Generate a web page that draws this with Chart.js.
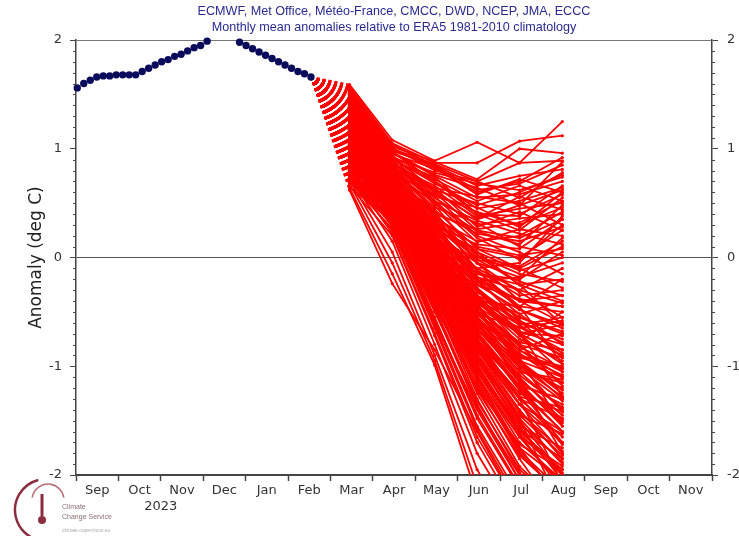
<!DOCTYPE html>
<html>
<head>
<meta charset="utf-8">
<script src="https://cdn.jsdelivr.net/npm/chart.js@4.4.1/dist/chart.umd.min.js"></script>
<style>
  html, body { margin: 0; padding: 0; background: #fff; }
  #wrap { width: 739px; height: 536px; }
</style>
</head>
<body>
<div id="wrap"><canvas id="plume" width="739" height="536"></canvas></div>
<script>
// month axis runs from 1 Sep 2023 (0) to 1 Dec 2024 (15)
const monthLabels = ["Sep", "Oct", "Nov", "Dec", "Jan", "Feb", "Mar", "Apr", "May", "Jun", "Jul", "Aug", "Sep", "Oct", "Nov"];
const yearLabel = "2023";

// observed anomalies (dark blue dots), one every ~4.6 days
const obsStart = 0.03;
const obsStep = 0.1531;
const obsValues = [
  1.56, 1.60, 1.63, 1.66, 1.67, 1.67, 1.68, 1.68, 1.68, 1.68, 1.71,
  1.74, 1.77, 1.80, 1.82, 1.85, 1.87, 1.90, 1.93, 1.95, 1.99,
  2.08, 2.10, 2.10, 2.08,
  1.98, 1.95, 1.92, 1.89, 1.86, 1.83, 1.80, 1.77, 1.74, 1.71, 1.69, 1.66
];

// forecast months (mid Mar .. mid Aug 2024)
const fcMonths = [6.45, 7.46, 8.46, 9.46, 10.46, 11.47];

// ensemble members: Mar, Apr, May, Jun, Jul, Aug
const members = [
  [1.59, 1.08, 0.89, 1.06, 0.87, 1.25],
  [1.57, 1.05, 0.87, 0.87, 1.07, 1.12],
  [1.55, 1.02, 0.88, 0.72, 1.00, 0.96],
  [1.53, 1.00, 0.86, 0.70, 0.87, 0.89],
  [1.50, 0.98, 0.85, 0.66, 0.75, 0.81],
  [1.46, 0.95, 0.82, 0.60, 0.70, 0.92],
  [1.44, 0.92, 0.78, 0.68, 0.62, 0.74],
  [1.48, 0.96, 0.75, 0.55, 0.58, 0.70],
  [1.42, 0.90, 0.70, 0.45, 0.52, 0.64],
  [1.40, 0.88, 0.62, 0.50, 0.40, 0.58],
  [1.38, 0.85, 0.66, 0.38, 0.45, 0.50],
  [1.36, 0.84, 0.58, 0.42, 0.30, 0.46],
  [1.34, 0.80, 0.55, 0.30, 0.36, 0.40],
  [1.52, 0.94, 0.60, 0.25, 0.18, 0.35],
  [1.32, 0.82, 0.52, 0.34, 0.22, 0.12],
  [1.56, 0.90, 0.48, 0.02, -0.25, -0.40],
  [1.49, 0.86, 0.40, -0.12, -0.48, -0.65],
  [1.45, 0.83, 0.35, -0.30, -0.70, -1.05],
  [1.41, 0.76, 0.20, -0.42, -0.95, -1.30],
  [1.37, 0.70, 0.12, -0.60, -1.15, -1.55],
  [1.33, 0.79, 0.44, 0.08, -0.10, -0.28],
  [1.51, 0.92, 0.56, 0.20, 0.05, -0.15],
  [1.47, 0.88, 0.50, 0.14, 0.26, 0.20],
  [1.43, 0.74, 0.28, -0.22, -0.52, -0.80],
  [1.39, 0.81, 0.46, 0.32, 0.10, 0.02],
  [1.35, 0.66, 0.05, -0.75, -1.35, -1.80],
  [1.31, 0.72, 0.30, -0.05, -0.32, -0.55],
  [1.29, 0.77, 0.38, 0.10, 0.02, 0.08],
  [1.28, 0.70, 0.25, -0.18, -0.40, -0.60],
  [1.27, 0.64, 0.10, -0.45, -0.85, -1.10],
  [1.26, 0.75, 0.42, 0.22, 0.15, 0.28],
  [1.25, 0.58, -0.02, -0.62, -1.05, -1.40],
  [1.24, 0.68, 0.22, -0.28, -0.60, -0.75],
  [1.23, 0.62, 0.08, -0.50, -0.95, -1.25],
  [1.22, 0.72, 0.34, -0.02, -0.22, -0.35],
  [1.21, 0.55, -0.10, -0.80, -1.30, -1.65],
  [1.20, 0.66, 0.18, -0.35, -0.72, -0.98],
  [1.19, 0.60, 0.05, -0.55, -1.00, -1.20],
  [1.18, 0.70, 0.30, 0.05, -0.12, 0.00],
  [1.17, 0.52, -0.15, -0.85, -1.40, -1.85],
  [1.16, 0.63, 0.12, -0.40, -0.70, -0.90],
  [1.15, 0.57, 0.00, -0.65, -1.10, -1.50],
  [1.14, 0.68, 0.26, -0.10, -0.30, -0.42],
  [1.13, 0.50, -0.20, -0.95, -1.55, -2.05],
  [1.12, 0.61, 0.08, -0.45, -0.82, -1.02],
  [1.11, 0.64, 0.20, -0.20, -0.45, -0.50],
  [1.10, 0.54, -0.08, -0.70, -1.20, -1.60],
  [1.09, 0.59, 0.02, -0.52, -0.88, -1.15],
  [1.08, 0.66, 0.24, -0.15, -0.25, -0.20],
  [1.07, 0.48, -0.25, -1.05, -1.65, -2.10],
  [1.06, 0.56, -0.05, -0.60, -1.02, -1.32],
  [1.05, 0.62, 0.15, -0.32, -0.55, -0.70],
  [1.04, 0.45, -0.30, -1.10, -1.75, -2.25],
  [1.03, 0.58, 0.04, -0.48, -0.78, -0.85],
  [1.02, 0.52, -0.12, -0.78, -1.28, -1.72],
  [1.01, 0.60, 0.10, -0.25, -0.48, -0.62],
  [1.00, 0.46, -0.22, -0.92, -1.48, -1.90],
  [0.99, 0.55, -0.02, -0.58, -0.98, -1.22],
  [0.98, 0.50, -0.10, -0.72, -1.12, -1.45],
  [0.97, 0.62, 0.18, -0.12, -0.35, -0.30],
  [0.96, 0.42, -0.35, -1.20, -1.85, -2.40],
  [0.95, 0.53, -0.06, -0.66, -1.08, -1.38],
  [1.27, 0.74, 0.36, 0.15, 0.20, 0.42],
  [1.18, 0.69, 0.28, 0.00, -0.08, 0.15],
  [1.09, 0.63, 0.22, -0.05, -0.18, -0.05],
  [1.22, 0.60, 0.02, -0.55, -0.90, -1.08],
  [1.14, 0.55, -0.05, -0.68, -1.15, -1.35],
  [1.04, 0.59, 0.14, -0.30, -0.62, -0.88],
  [1.00, 0.57, 0.06, -0.40, -0.75, -0.95],
  [1.25, 0.71, 0.32, 0.02, -0.15, -0.22],
  [1.12, 0.47, -0.18, -0.88, -1.42, -1.78],
  [1.06, 0.65, 0.26, 0.08, 0.00, 0.25],
  [0.94, 0.48, -0.12, -0.75, -1.20, -1.48],
  [0.93, 0.40, -0.38, -1.25, -1.92, -2.30],
  [0.92, 0.52, 0.00, -0.50, -0.85, -1.05],
  [0.91, 0.44, -0.25, -0.98, -1.60, -1.95],
  [0.90, 0.50, -0.05, -0.62, -1.00, -1.28],
  [0.89, 0.36, -0.45, -1.35, -2.05, -2.50],
  [0.88, 0.46, -0.18, -0.85, -1.35, -1.70],
  [0.87, 0.54, 0.05, -0.38, -0.68, -0.80],
  [0.86, 0.38, -0.40, -1.30, -1.98, -2.35],
  [0.85, 0.42, -0.30, -1.08, -1.70, -2.05],
  [0.84, 0.49, -0.08, -0.70, -1.18, -1.52],
  [0.83, 0.32, -0.55, -1.45, -2.10, -2.60],
  [0.82, 0.45, -0.20, -0.90, -1.45, -1.82],
  [0.81, 0.51, 0.02, -0.45, -0.80, -0.92],
  [0.80, 0.28, -0.62, -1.55, -2.20, -2.70],
  [0.79, 0.40, -0.32, -1.12, -1.78, -2.15],
  [0.78, 0.47, -0.10, -0.72, -1.22, -1.60],
  [0.77, 0.22, -0.70, -1.65, -2.30, -2.80],
  [0.76, 0.35, -0.48, -1.38, -2.00, -2.40],
  [0.75, 0.43, -0.22, -0.95, -1.52, -1.88],
  [0.74, 0.15, -0.80, -1.80, -2.45, -2.90],
  [0.73, 0.30, -0.58, -1.48, -2.12, -2.55],
  [0.72, 0.41, -0.28, -1.02, -1.62, -2.00],
  [0.71, 0.05, -0.90, -1.95, -2.60, -3.00],
  [0.70, 0.26, -0.65, -1.58, -2.25, -2.65],
  [0.69, 0.38, -0.35, -1.15, -1.80, -2.20],
  [0.68, -0.05, -0.95, -2.10, -2.75, -3.10],
  [0.66, 0.20, -0.72, -1.70, -2.38, -2.85],
  [0.64, -0.15, -0.99, -2.20, -2.85, -3.20],
  [0.62, -0.24, -0.85, -1.60, -2.30, -2.80],
  [0.65, 0.33, -0.42, -1.20, -1.72, -1.95],
  [0.88, 0.58, 0.12, -0.20, -0.40, -0.45],
  [0.80, 0.55, 0.08, -0.30, -0.55, -0.68],
  [0.92, 0.60, 0.16, -0.18, -0.30, -0.10],
  [1.54, 0.97, 0.70, 0.40, 0.25, 0.55],
  [1.50, 0.93, 0.62, 0.35, 0.48, 0.62],
  [1.46, 0.89, 0.52, 0.18, -0.02, 0.30],
  [1.42, 0.84, 0.42, -0.05, -0.40, -0.35],
  [1.38, 0.78, 0.32, -0.20, -0.58, -0.92],
  [1.34, 0.73, 0.22, -0.38, -0.80, -1.18],
  [1.30, 0.69, 0.16, -0.48, -0.98, -1.42],
  [1.28, 0.63, 0.04, -0.68, -1.22, -1.70],
  [1.26, 0.56, -0.12, -0.90, -1.50, -2.00],
  [1.24, 0.74, 0.40, 0.26, 0.32, 0.52],
  [1.22, 0.67, 0.20, -0.15, -0.20, 0.05],
  [1.20, 0.62, 0.10, -0.42, -0.65, -0.58],
  [1.18, 0.57, 0.00, -0.62, -1.05, -1.12],
  [1.16, 0.51, -0.12, -0.82, -1.35, -1.60],
  [1.14, 0.46, -0.28, -1.00, -1.62, -2.15],
  [1.12, 0.66, 0.30, 0.12, 0.08, 0.35],
  [1.10, 0.60, 0.12, -0.35, -0.52, -0.40],
  [1.08, 0.53, -0.04, -0.58, -0.92, -1.02],
  [1.06, 0.49, -0.16, -0.82, -1.30, -1.48],
  [1.04, 0.44, -0.26, -1.00, -1.58, -1.98],
  [1.02, 0.58, 0.08, -0.38, -0.62, -0.55],
  [1.00, 0.52, -0.04, -0.62, -0.95, -1.10],
  [0.98, 0.47, -0.15, -0.80, -1.25, -1.42],
  [0.96, 0.40, -0.32, -1.05, -1.58, -1.85],
  [0.94, 0.56, 0.04, -0.42, -0.70, -0.72],
  [0.92, 0.46, -0.14, -0.78, -1.18, -1.30],
  [0.90, 0.39, -0.30, -1.02, -1.55, -1.75],
  [0.88, 0.34, -0.42, -1.22, -1.82, -2.18],
  [0.86, 0.50, -0.02, -0.55, -0.90, -1.00],
  [0.84, 0.44, -0.18, -0.85, -1.28, -1.38],
  [0.82, 0.37, -0.36, -1.10, -1.65, -1.92],
  [0.80, 0.31, -0.50, -1.32, -1.95, -2.28],
  [0.78, 0.45, -0.12, -0.65, -1.05, -1.15],
  [0.76, 0.39, -0.28, -0.95, -1.45, -1.62],
  [0.74, 0.33, -0.44, -1.18, -1.75, -2.05],
  [0.72, 0.25, -0.60, -1.40, -2.05, -2.45],
  [1.32, 0.77, 0.38, 0.05, -0.25, -0.62],
  [1.28, 0.72, 0.28, -0.12, -0.45, -0.98],
  [1.19, 0.64, 0.14, -0.30, -0.68, -1.28],
  [1.11, 0.58, 0.04, -0.48, -0.92, -1.55],
  [1.03, 0.54, -0.06, -0.60, -1.12, -1.80],
  [0.97, 0.49, -0.14, -0.75, -1.30, -2.08],
  [0.91, 0.43, -0.24, -0.92, -1.48, -2.32],
  [1.36, 0.79, 0.36, -0.02, -0.10, 0.10],
  [1.16, 0.67, 0.20, -0.10, -0.05, 0.38],
  [1.05, 0.61, 0.10, -0.22, -0.18, 0.18],
  [0.95, 0.55, 0.02, -0.40, -0.45, -0.20],
  [0.85, 0.47, -0.12, -0.62, -0.78, -0.50],
  [1.58, 1.04, 0.84, 0.62, 0.68, 0.85],
  [1.54, 1.01, 0.80, 0.70, 0.55, 0.78],
  [1.51, 0.99, 0.83, 0.58, 0.72, 0.60],
  [1.47, 0.97, 0.76, 0.64, 0.48, 0.88],
  [1.45, 0.93, 0.72, 0.52, 0.66, 0.52],
  [1.43, 0.91, 0.68, 0.48, 0.60, 0.76],
  [1.41, 0.89, 0.74, 0.40, 0.38, 0.66],
  [1.39, 0.87, 0.64, 0.56, 0.50, 0.30],
  [1.37, 0.86, 0.60, 0.36, 0.56, 0.44],
  [1.35, 0.83, 0.56, 0.46, 0.28, 0.60],
  [1.33, 0.81, 0.64, 0.28, 0.42, 0.25],
  [1.30, 0.79, 0.50, 0.24, 0.12, 0.48],
  [1.21, 0.65, 0.16, -0.25, -0.38, -0.45],
  [1.13, 0.60, 0.06, -0.36, -0.58, -0.78],
  [1.07, 0.57, 0.02, -0.45, -0.70, -0.62],
  [0.99, 0.53, -0.02, -0.52, -0.64, -0.85],
  [0.93, 0.51, -0.08, -0.58, -0.85, -0.70]
];

const obsColor = "#0b0b5c";
const memberColor = "#ff0000";
const axisColor = "#444";
const textColor = "#333";

Chart.defaults.font.family = "DejaVu Sans";

// small 0.1 ticks on both y axes
const minorTicks = {
  id: "minorTicks",
  afterDraw(chart) {
    const ctx = chart.ctx;
    ctx.save();
    ctx.strokeStyle = axisColor;
    ctx.lineWidth = 1;
    ["y", "y2"].forEach(id => {
      const s = chart.scales[id];
      const x0 = id === "y" ? s.right : s.left;
      const dir = id === "y" ? -1 : 1;
      for (let k = -20; k <= 20; k++) {
        if (k % 10 === 0) continue;
        const py = Math.round(s.getPixelForValue(k / 10)) + 0.5;
        ctx.beginPath();
        ctx.moveTo(x0, py);
        ctx.lineTo(x0 + dir * 3, py);
        ctx.stroke();
      }
    });
    ctx.restore();
  }
};

// Copernicus C3S logo in the bottom-left corner
const logo = {
  id: "logo",
  afterDraw(chart) {
    const ctx = chart.ctx;
    ctx.save();
    ctx.strokeStyle = "#8c2d3f";
    ctx.lineWidth = 2.5;
    ctx.beginPath();
    ctx.arc(46, 510, 31, Math.PI * 1.42, Math.PI * 0.58, true);
    ctx.stroke();
    ctx.strokeStyle = "#b56a78";
    ctx.lineWidth = 1.5;
    ctx.beginPath();
    ctx.arc(48, 500, 16, Math.PI * 1.05, Math.PI * 1.95, false);
    ctx.stroke();
    ctx.strokeStyle = "#8c2d3f";
    ctx.lineWidth = 3;
    ctx.beginPath();
    ctx.moveTo(42, 494);
    ctx.lineTo(42, 516);
    ctx.stroke();
    ctx.fillStyle = "#8c2d3f";
    ctx.beginPath();
    ctx.arc(42, 520, 4, 0, Math.PI * 2);
    ctx.fill();
    ctx.fillStyle = "#8a6f76";
    ctx.font = "7px 'Liberation Sans'";
    ctx.textBaseline = "middle";
    ctx.fillText("Climate", 62, 507);
    ctx.fillText("Change Service", 62, 517);
    ctx.fillStyle = "#aaa";
    ctx.font = "5px 'Liberation Sans'";
    ctx.fillText("climate.copernicus.eu", 62, 531);
    ctx.restore();
  }
};

const lastObsX = obsStart + obsStep * (obsValues.length - 1);
const lastObsY = obsValues[obsValues.length - 1];

const datasets = [{
  data: obsValues.map((v, i) => ({ x: obsStart + obsStep * i, y: v })),
  showLine: false,
  pointRadius: 3.7,
  pointBackgroundColor: obsColor,
  pointBorderColor: obsColor,
  pointBorderWidth: 0,
  clip: { left: 10, top: 3.5, right: 10, bottom: 10 }
}];

members.forEach(m => {
  datasets.push({
    data: [{ x: lastObsX, y: lastObsY }].concat(m.map((v, i) => ({ x: fcMonths[i], y: v }))),
    borderColor: memberColor,
    borderWidth: 1.8,
    pointRadius: ctx => ctx.dataIndex === 0 ? 0 : 1.6,
    pointBackgroundColor: memberColor,
    pointBorderWidth: 0,
    segment: { borderDash: ctx => ctx.p0DataIndex === 0 ? [3, 3] : [] },
    tension: 0,
    clip: 0
  });
});

new Chart(document.getElementById("plume"), {
  type: "line",
  data: { datasets: datasets },
  options: {
    responsive: false,
    animation: false,
    devicePixelRatio: 1,
    layout: { padding: 0 },
    plugins: {
      legend: { display: false },
      tooltip: { enabled: false },
      title: {
        display: true,
        fullSize: false,
        text: "ECMWF, Met Office, Météo-France, CMCC, DWD, NCEP, JMA, ECCC",
        color: "#2a2a92",
        font: { family: "Liberation Sans", size: 12.6, weight: "normal" },
        padding: { top: 4.4, bottom: 0.9 }
      },
      subtitle: {
        display: true,
        fullSize: false,
        text: "Monthly mean anomalies relative to ERA5 1981-2010 climatology",
        color: "#2a2a92",
        font: { family: "Liberation Sans", size: 12.6 },
        padding: { top: 0, bottom: 4.5 }
      }
    },
    scales: {
      x: {
        type: "linear",
        min: 0,
        max: monthLabels.length,
        afterFit: s => { s.height = 61; },
        afterBuildTicks: s => {
          const t = [];
          for (let i = 0; i <= monthLabels.length * 2; i++) t.push({ value: i / 2 });
          s.ticks = t;
        },
        ticks: {
          autoSkip: false,
          maxRotation: 0,
          padding: 2,
          color: textColor,
          font: { size: 13 },
          callback: v => {
            if (v % 1 !== 0) return monthLabels[Math.floor(v)];
            if (v === 2) return ["", yearLabel];
            return "";
          }
        },
        grid: {
          drawOnChartArea: false,
          tickLength: 6,
          tickWidth: 1.5,
          tickColor: c => (c.tick && c.tick.value % 1 === 0) ? axisColor : "rgba(0,0,0,0)"
        },
        border: { color: axisColor, width: 2 }
      },
      y: {
        position: "left",
        min: -2,
        max: 2,
        afterFit: s => { s.width = 76; },
        ticks: { stepSize: 1, padding: 8, color: textColor, font: { size: 13 } },
        grid: {
          tickLength: 6,
          tickColor: axisColor,
          color: c => c.tick && c.tick.value === 0 ? "#555" : (c.tick && c.tick.value === 2 ? "#777" : "rgba(0,0,0,0)"),
          lineWidth: 1
        },
        border: { color: axisColor, width: 1.5 },
        title: {
          display: true,
          text: "Anomaly (deg C)",
          color: "#222",
          font: { size: 17 },
          padding: { top: 26, bottom: 0 }
        }
      },
      y2: {
        position: "right",
        min: -2,
        max: 2,
        afterFit: s => { s.width = 27; },
        ticks: { stepSize: 1, padding: 9, color: textColor, font: { size: 13 } },
        grid: { drawOnChartArea: false, tickLength: 6, tickColor: axisColor },
        border: { color: axisColor, width: 1.5 }
      }
    }
  },
  plugins: [minorTicks, logo]
});
</script>
</body>
</html>
